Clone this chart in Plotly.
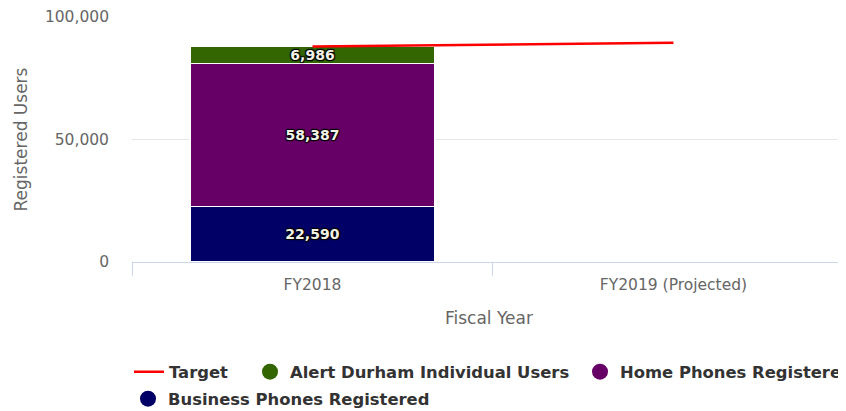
import plotly.graph_objects as go

categories = ["FY2018", "FY2019 (Projected)"]
business = [22590, None]
home = [58387, None]
alert = [6986, None]
target = [88000, 89500]

# The page body has an 8px margin, so the figure is sized/placed to compensate.
OFF = 8
W, H = 846 - OFF, 411 - OFF
font_family = "DejaVu Sans"
label_font = dict(family=font_family, size=14, color="#f2f2e6", weight="bold",
                  shadow="1px 1px 1px #000, -1px -1px 1px #000, 1px -1px 1px #000, -1px 1px 1px #000")

fig = go.Figure()

bar_specs = [
    ("Business Phones Registered", business, "#000066"),
    ("Home Phones Registered", home, "#660066"),
    ("Alert Durham Individual Users", alert, "#336600"),
]
for name, vals, col in bar_specs:
    fig.add_trace(go.Bar(
        x=categories, y=vals, name=name, legendgroup=name, showlegend=False,
        marker=dict(color=col, line=dict(color="#ffffff", width=1.5)),
        width=0.68, text=[f"{v:,}" if v is not None else "" for v in vals],
        textposition="inside", insidetextanchor="middle", textfont=label_font,
        constraintext="none", cliponaxis=False,
    ))

fig.add_trace(go.Scatter(
    x=categories, y=target, name="Target", mode="lines",
    line=dict(color="#ff0000", width=2.5), legend="legend",
))

legend_items = [
    ("Alert Durham Individual Users", "#336600", "legend2"),
    ("Home Phones Registered", "#660066", "legend3"),
    ("Business Phones Registered", "#000066", "legend4"),
]
for name, col, lg in legend_items:
    fig.add_trace(go.Scatter(
        x=[None], y=[None], mode="markers", name=name, legendgroup=name,
        marker=dict(symbol="circle", size=16, color=col), legend=lg,
    ))

legend_font = dict(family=font_family, size=16.4, color="#333333", weight="bold")
common = dict(orientation="h", xanchor="left", yanchor="middle", xref="container",
              yref="container", font=legend_font, itemsizing="trace",
              bgcolor="rgba(0,0,0,0)", borderwidth=0, tracegroupgap=0,
              traceorder="normal")


def lx(px):
    return (px - OFF) / W


def ly(py):
    return 1 - (py - OFF) / H


fig.update_layout(
    width=W, height=H,
    barmode="stack",
    plot_bgcolor="#ffffff", paper_bgcolor="#ffffff",
    margin=dict(l=132 - OFF, r=0, t=17 - OFF, b=H - (262 - OFF), autoexpand=False),
    font=dict(family=font_family, size=15, color="#666666"),
    showlegend=True,
    legend=dict(x=lx(129), y=ly(372), **common),
    legend2=dict(x=lx(250), y=ly(372), **common),
    legend3=dict(x=lx(580), y=ly(372), **common),
    legend4=dict(x=lx(128), y=ly(399), **common),
    xaxis=dict(
        range=[-0.5, 1.478], showgrid=False, showline=True, linecolor="#ccd6eb",
        linewidth=1, ticks="outside", tickson="boundaries", ticklen=13,
        tickcolor="#ccd6eb", tickfont=dict(size=15.5, color="#666666"),
        automargin=False, ticklabelstandoff=8,
        title=dict(text="Fiscal Year", font=dict(size=17, color="#666666"), standoff=19),
    ),
    yaxis=dict(
        range=[0, 100000], tickvals=[0, 50000, 100000], tickformat=",d",
        showgrid=True, gridcolor="#e6e6e6", zeroline=False, showline=False,
        tickfont=dict(size=15.5, color="#666666"), ticks="", ticklabelstandoff=22,
        automargin=False,
        title=dict(text="Registered Users", font=dict(size=17, color="#666666"), standoff=12),
    ),
)

fig.write_html("out.html")
